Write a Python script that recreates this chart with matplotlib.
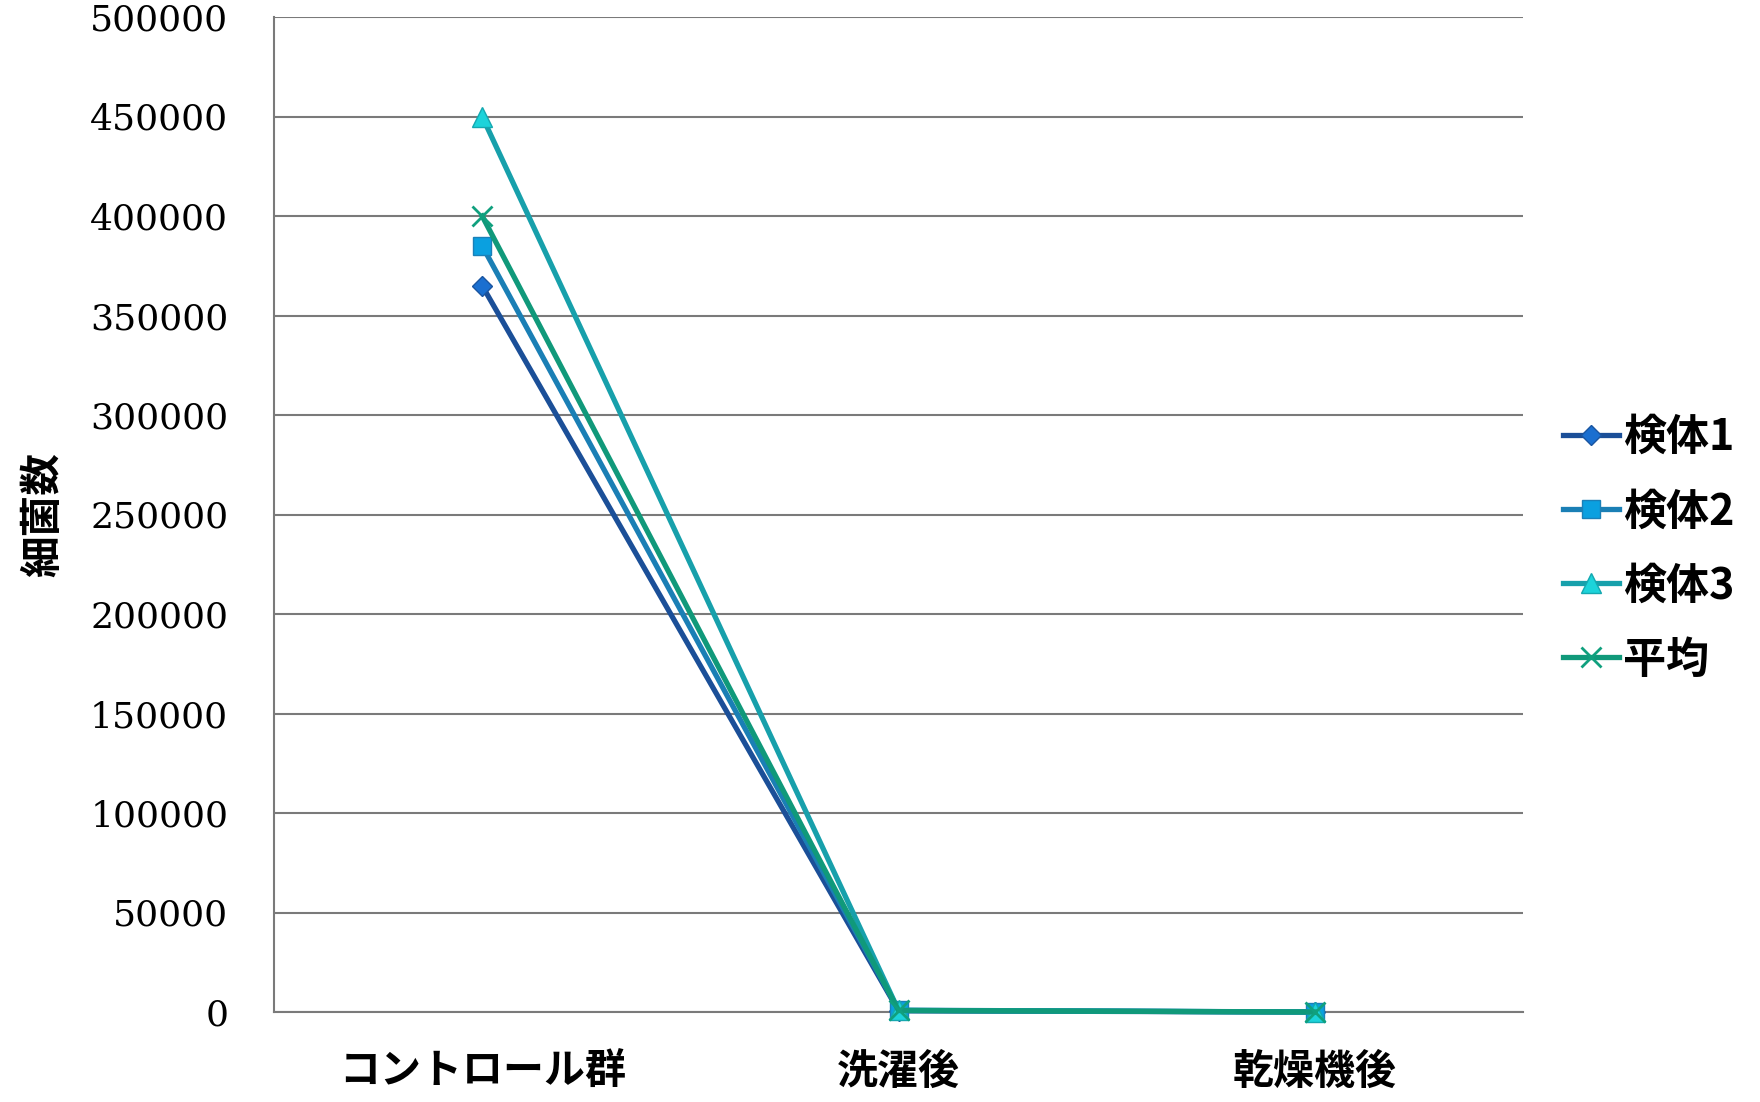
"""Bacterial counts per stage, line chart with four series."""
import matplotlib

matplotlib.use("Agg")
import matplotlib.pyplot as plt  # noqa: E402
from matplotlib.ticker import MultipleLocator  # noqa: E402

plt.rcParams["font.family"] = ["Noto Sans CJK JP", "DejaVu Sans"]

stages = ["コントロール群", "洗濯後", "乾燥機後"]
sample1 = [365000, 600, 0]
sample2 = [385000, 900, 0]
sample3 = [450000, 800, 0]
average = [400000, 770, 0]
series_names = ["検体1", "検体2", "検体3", "平均"]

styles = [
    dict(color="#1b4f98", marker="D", markersize=10, mfc="#1a6fd0", mec="#1a55a0"),
    dict(color="#1a7fb5", marker="s", markersize=13, mfc="#0aa0e0", mec="#1a80b8"),
    dict(color="#17a0ab", marker="^", markersize=15, mfc="#1cd3da", mec="#14a8b0"),
    dict(color="#10997a", marker="x", markersize=14, mew=2, mec="#10a07e"),
]

fig = plt.figure(figsize=(17.6, 11.02), dpi=100)
ax = fig.add_axes([274 / 1760, 1 - 1012 / 1102, 1249 / 1760, 995 / 1102])

x = range(len(stages))
for name, vals, st in zip(series_names, [sample1, sample2, sample3, average], styles):
    ax.plot(x, vals, lw=3.8, label=name, clip_on=False, zorder=3, **st)

ax.set_xlim(-0.5, 2.5)
ax.set_ylim(0, 500000)
ax.yaxis.set_major_locator(MultipleLocator(50000))
ax.grid(axis="y", color="#7a7a7a", lw=1.5)
ax.set_axisbelow(True)
for side in ("top", "right"):
    ax.spines[side].set_visible(False)
for side in ("left", "bottom"):
    ax.spines[side].set_color("#7a7a7a")
    ax.spines[side].set_linewidth(1.5)

ax.set_xticks(list(x))
ax.set_xticklabels(stages, fontsize=29.5, fontweight="bold")
ax.tick_params(axis="x", length=0, pad=28)
ax.tick_params(axis="y", length=0, pad=33)
for lab in ax.get_yticklabels():
    lab.set_fontfamily("DejaVu Serif")
    lab.set_fontsize(26)

ax.set_ylabel("細菌数", fontsize=30, fontweight="bold")
ax.yaxis.set_label_coords(-0.168, 0.5)

ax.legend(loc="center left", bbox_to_anchor=(1.032, 0.466), frameon=False,
          borderaxespad=0, borderpad=0,
          prop={"size": 31, "weight": "bold"}, handlelength=1.3,
          handletextpad=0.1, labelspacing=0.7)

fig.savefig("out.png", dpi=100)
plt.close(fig)
